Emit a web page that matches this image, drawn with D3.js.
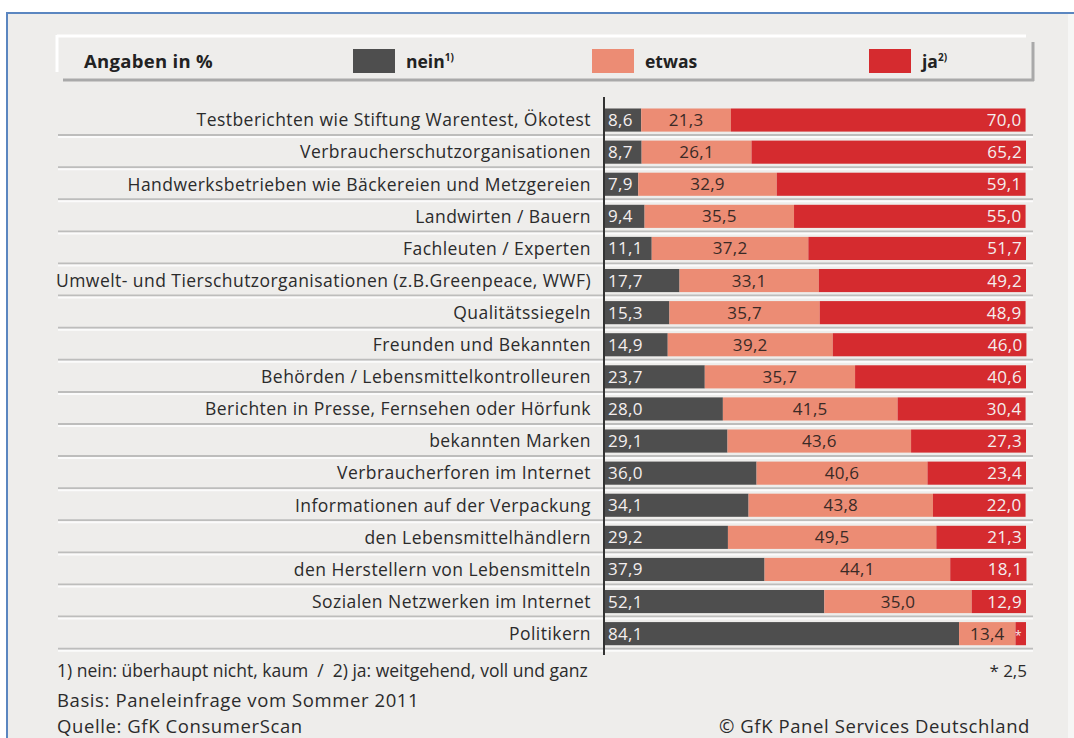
<!DOCTYPE html>
<html><head><meta charset="utf-8">
<script src="https://cdn.jsdelivr.net/npm/d3@7"></script>
<style>
html,body{margin:0;padding:0;background:#fff;}
svg{display:block;font-family:"Open Sans","Noto Sans",sans-serif;}
</style></head>
<body>
<svg id="c" width="1074" height="738"></svg>
<script>
const categories = [
  "Testberichten wie Stiftung Warentest, Ökotest",
  "Verbraucherschutzorganisationen",
  "Handwerksbetrieben wie Bäckereien und Metzgereien",
  "Landwirten / Bauern",
  "Fachleuten / Experten",
  "Umwelt- und Tierschutzorganisationen (z.B.Greenpeace, WWF)",
  "Qualitätssiegeln",
  "Freunden und Bekannten",
  "Behörden / Lebensmittelkontrolleuren",
  "Berichten in Presse, Fernsehen oder Hörfunk",
  "bekannten Marken",
  "Verbraucherforen im Internet",
  "Informationen auf der Verpackung",
  "den Lebensmittelhändlern",
  "den Herstellern von Lebensmitteln",
  "Sozialen Netzwerken im Internet",
  "Politikern"
];
const nein  = [8.6, 8.7, 7.9, 9.4, 11.1, 17.7, 15.3, 14.9, 23.7, 28.0, 29.1, 36.0, 34.1, 29.2, 37.9, 52.1, 84.1];
const etwas = [21.3, 26.1, 32.9, 35.5, 37.2, 33.1, 35.7, 39.2, 35.7, 41.5, 43.6, 40.6, 43.8, 49.5, 44.1, 35.0, 13.4];
const ja    = [70.0, 65.2, 59.1, 55.0, 51.7, 49.2, 48.9, 46.0, 40.6, 30.4, 27.3, 23.4, 22.0, 21.3, 18.1, 12.9, 2.5];
const seriesNames = ["nein", "etwas", "ja"];
const legendLabels = ["nein", "etwas", "ja"];
const legendSup = ["1)", "", "2)"];
const footnote = "1) nein: überhaupt nicht, kaum  /  2) ja: weitgehend, voll und ganz";
const starNote = "* 2,5";
const basis = "Basis: Paneleinfrage vom Sommer 2011";
const quelle = "Quelle: GfK ConsumerScan";
const copyright = "© GfK Panel Services Deutschland";

const colors = {nein:"#4e4e4e", etwas:"#ec8c74", ja:"#d52b2f"};
const fmt = v => v.toFixed(1).replace(".", ",");

const svg = d3.select("#c");
// background panel + blue frame
svg.append("rect").attr("x",8).attr("y",14).attr("width",1066).attr("height",724).attr("fill","#f6f6f5");
svg.append("rect").attr("x",8).attr("y",14).attr("width",1060).attr("height",724).attr("fill","#eeedeb");
svg.append("line").attr("x1",7).attr("x2",1074).attr("y1",13).attr("y2",13).attr("stroke","#5b86c0").attr("stroke-width",2);
svg.append("line").attr("x1",7).attr("x2",7).attr("y1",12).attr("y2",738).attr("stroke","#5b86c0").attr("stroke-width",2);

// legend box
const lg = svg.append("g");
lg.append("line").attr("x1",57).attr("x2",1026).attr("y1",36).attr("y2",36).attr("stroke","#fff").attr("stroke-width",3);
lg.append("line").attr("x1",57).attr("x2",57).attr("y1",35).attr("y2",72).attr("stroke","#fff").attr("stroke-width",3);
lg.append("line").attr("x1",63).attr("x2",1034).attr("y1",80).attr("y2",80).attr("stroke","#a9a9a9").attr("stroke-width",3);
lg.append("line").attr("x1",1033).attr("x2",1033).attr("y1",42).attr("y2",81).attr("stroke","#a9a9a9").attr("stroke-width",3);
lg.append("text").attr("x",84).attr("y",68).attr("font-size",18.5).attr("letter-spacing",0.3).attr("font-weight","bold").attr("fill","#222").text("Angaben in %");
const legX = [353, 592, 869];
seriesNames.forEach((s,i)=>{
  lg.append("rect").attr("x",legX[i]).attr("y",49).attr("width",42).attr("height",24).attr("fill",colors[s]);
  const t = lg.append("text").attr("x",legX[i]+53).attr("y",68).attr("font-size",17.5).attr("font-weight","bold").attr("fill","#222").text(legendLabels[i]);
  if (legendSup[i]) t.append("tspan").attr("font-size",10).attr("dy",-7).text(legendSup[i]);
});

// scales
const x = d3.scaleLinear().domain([0,100]).range([605,1026]);
const y = d3.scaleBand().domain(categories).range([104, 104 + 17*32.1]).paddingInner(0.28).paddingOuter(0.14);
const step = y.step();

// separators
categories.forEach(c=>{
  const yy = y(c) - step*0.14 + step;
  svg.append("line").attr("x1",58).attr("x2",1033).attr("y1",yy-1).attr("y2",yy-1).attr("stroke","#bdbdbc").attr("stroke-width",2);
  svg.append("line").attr("x1",58).attr("x2",1033).attr("y1",yy+1).attr("y2",yy+1).attr("stroke","#fbfbfb").attr("stroke-width",2);
});

// stacked data
const rows = categories.map((c,i)=>({cat:c, nein:nein[i], etwas:etwas[i], ja:ja[i]}));
const stack = d3.stack().keys(seriesNames)(rows);

const g = svg.append("g");
stack.forEach(layer=>{
  const key = layer.key;
  g.selectAll(null).data(layer).join("rect")
    .attr("x", d=>x(d[0])).attr("width", d=>x(d[1])-x(d[0]))
    .attr("y", d=>y(d.data.cat)).attr("height", y.bandwidth())
    .attr("fill", colors[key]);
  g.selectAll(null).data(layer).join("text")
    .attr("y", d=>y(d.data.cat)+y.bandwidth()/2+6)
    .attr("letter-spacing",0.3)
    .attr("x", d=> key==="nein" ? x(d[0])+3 : key==="etwas" ? (x(d[0])+x(d[1]))/2 : x(d[1])-4)
    .attr("text-anchor", key==="nein" ? "start" : key==="etwas" ? "middle" : "end")
    .attr("fill", key==="etwas" ? "#3a2a26" : "#f4eeee")
    .text(d=>{ const v = d.data[key]; return (key==="ja" && v < 5) ? "*" : fmt(v); })
    .attr("font-size", d=> (key==="ja" && d.data[key] < 5) ? 12 : 17);
});

// category axis
const yAxis = d3.axisLeft(y).tickSize(0).tickPadding(13);
const ax = svg.append("g").attr("transform",`translate(${604},0)`).call(yAxis);
ax.select(".domain").remove();
ax.selectAll("text").attr("font-size",17.5).attr("letter-spacing",0.45).attr("fill","#2b2b2b").attr("font-family","'Open Sans','Noto Sans',sans-serif").attr("dy","0.36em");
svg.append("line").attr("x1",604).attr("x2",604).attr("y1",97).attr("y2",655).attr("stroke","#333").attr("stroke-width",2);

// footer
svg.append("text").attr("x",57).attr("y",677).attr("font-size",17.5).attr("fill","#2b2b2b").attr("xml:space","preserve").text(footnote);
svg.append("text").attr("x",1027).attr("y",677).attr("text-anchor","end").attr("font-size",17).attr("fill","#2b2b2b").text(starNote);
svg.append("text").attr("x",57).attr("y",706.5).attr("font-size",18.5).attr("letter-spacing",0.6).attr("fill","#2b2b2b").text(basis);
svg.append("text").attr("x",57).attr("y",732.5).attr("font-size",18.5).attr("letter-spacing",0.6).attr("fill","#2b2b2b").text(quelle);
svg.append("text").attr("x",1030).attr("y",732.5).attr("text-anchor","end").attr("font-size",18.5).attr("letter-spacing",0.6).attr("fill","#2b2b2b").text(copyright);
</script>
</body></html>
